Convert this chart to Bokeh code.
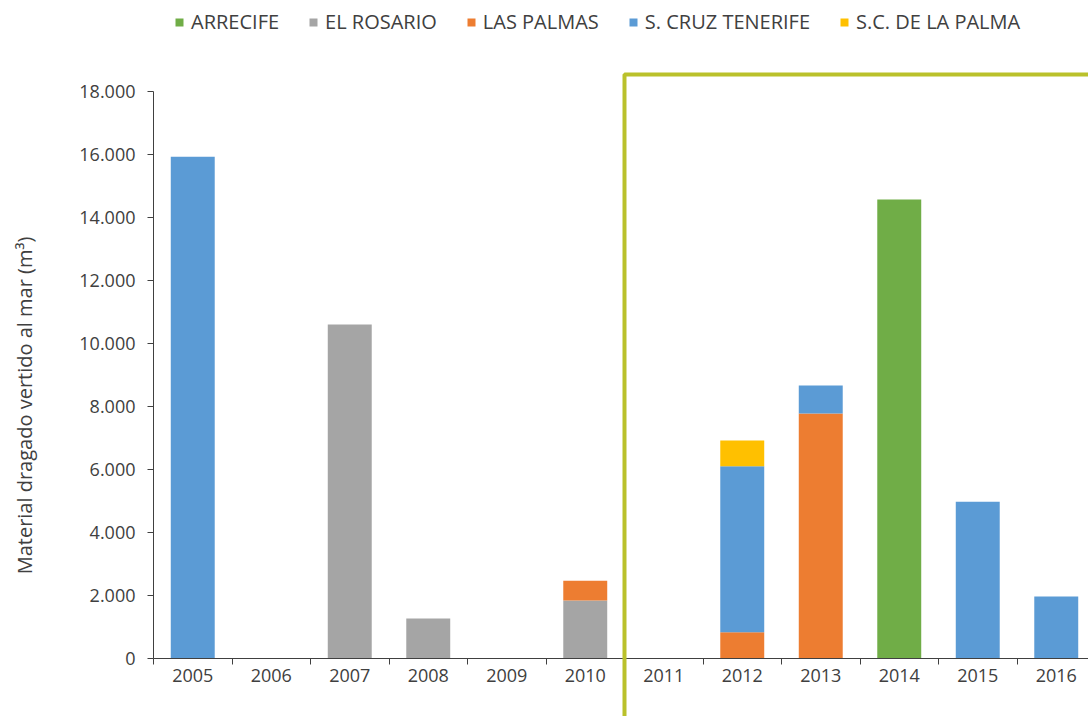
import math
from bokeh.plotting import figure
from bokeh.models import (ColumnDataSource, Range1d, FixedTicker, BoxAnnotation,
                          Label, Legend)
from bokeh.embed import file_html
from bokeh.resources import INLINE

# ---- data -------------------------------------------------------------
years = [2005, 2006, 2007, 2008, 2009, 2010, 2011, 2012, 2013, 2014, 2015, 2016]
arrecife = [0, 0, 0, 0, 0, 0, 0, 0, 0, 14570, 0, 0]
el_rosario = [0, 0, 10600, 1270, 0, 1840, 0, 0, 0, 0, 0, 0]
las_palmas = [0, 0, 0, 0, 0, 630, 0, 830, 7780, 0, 0, 0]
sc_tenerife = [15930, 0, 0, 0, 0, 0, 0, 5270, 890, 0, 4980, 1970]
sc_la_palma = [0, 0, 0, 0, 0, 0, 0, 820, 0, 0, 0, 0]

series_keys = ["arrecife", "el_rosario", "las_palmas", "sc_tenerife", "sc_la_palma"]
series_names = ["ARRECIFE", "EL ROSARIO", "LAS PALMAS", "S. CRUZ TENERIFE", "S.C. DE LA PALMA"]
series_colors = ["#70AD47", "#A5A5A5", "#ED7D31", "#5B9BD5", "#FFC000"]

y_ticks = [0, 2000, 4000, 6000, 8000, 10000, 12000, 14000, 16000, 18000]
y_title = "Material dragado vertido al mar (m³)"

FONT = "Open Sans"
TXT = "#404040"

# ---- layout (pixels) --------------------------------------------------
W, H = 1088, 716
AX_LEFT_PX = 153      # y-axis position
AX_ZERO_PX = 658      # y = 0 position (from top)
AX_TOP_PX = 91        # y = 18000 position (from top)
CAT_PX = 78.5         # width of one year slot

y_per_px = (y_ticks[-1] - y_ticks[0]) / (AX_ZERO_PX - AX_TOP_PX)
x_first = years[0] - 0.5
x_start = x_first - AX_LEFT_PX / CAT_PX
x_end = x_first + (W - AX_LEFT_PX) / CAT_PX
y_start = y_ticks[0] - (H - AX_ZERO_PX) * y_per_px
y_end = y_ticks[-1] + AX_TOP_PX * y_per_px

source = ColumnDataSource(dict(
    year=years, arrecife=arrecife, el_rosario=el_rosario, las_palmas=las_palmas,
    sc_tenerife=sc_tenerife, sc_la_palma=sc_la_palma))

p = figure(width=W, height=H, output_backend="svg", toolbar_location=None,
           x_range=Range1d(x_start, x_end), y_range=Range1d(y_start, y_end),
           min_border_left=0, min_border_right=0, min_border_top=0,
           min_border_bottom=0)
p.outline_line_color = None
p.grid.visible = False
p.background_fill_color = "white"
p.border_fill_color = "white"

renderers = p.vbar_stack(series_keys, x="year", width=0.56, source=source,
                         color=series_colors, line_color=None)

# x axis: labels at year centres, tick marks at slot boundaries, drawn at y = 0
boundaries = [y - 0.5 for y in years] + [years[-1] + 0.5]
xa = p.xaxis[0]
xa.fixed_location = y_ticks[0]
xa.bounds = (x_first, x_end + 1)
xa.ticker = FixedTicker(ticks=years, minor_ticks=boundaries)
xa.major_tick_line_color = None
xa.major_tick_out = 6
xa.major_tick_in = 0
xa.minor_tick_line_color = TXT
xa.minor_tick_out = 6
xa.minor_tick_in = 0
xa.major_label_standoff = 4
xa.axis_line_color = TXT
xa.major_label_text_font = FONT
xa.major_label_text_font_size = "18px"
xa.major_label_text_color = TXT

ya = p.yaxis[0]
ya.fixed_location = x_first
ya.bounds = (y_ticks[0], y_ticks[-1])
ya.ticker = FixedTicker(ticks=y_ticks, minor_ticks=[])
ya.major_label_overrides = {t: f"{t:,}".replace(",", ".") for t in y_ticks}
ya.major_tick_out = 6
ya.major_tick_in = 0
ya.major_tick_line_color = TXT
ya.minor_tick_line_color = None
ya.major_label_standoff = 12
ya.axis_line_color = TXT
ya.major_label_text_font = FONT
ya.major_label_text_font_size = "18px"
ya.major_label_text_color = TXT

# y title
p.add_layout(Label(x=24, y=H - 405, x_units="screen", y_units="screen",
                   text=y_title, angle=math.pi / 2, text_align="center",
                   text_baseline="middle", text_font=FONT,
                   text_font_size="20px", text_color=TXT))

# highlight box (2011 onwards)
p.add_layout(BoxAnnotation(left=years[5] + 0.5, right=x_end + 1,
                           top=y_ticks[-1] + 17 * y_per_px, bottom=y_start - 1000,
                           fill_color=None, fill_alpha=0,
                           line_color="#BAC12B", line_alpha=1, line_width=4))

legend = Legend(items=[(n, [r]) for n, r in zip(series_names, renderers)],
                orientation="horizontal", location=(174, H - 35),
                label_text_font=FONT, label_text_font_size="20px",
                label_text_color=TXT, glyph_width=10, glyph_height=10,
                label_standoff=7, spacing=29, padding=0, margin=0,
                border_line_color=None, background_fill_alpha=0)
p.add_layout(legend, "center")

open("out.html", "w").write(file_html(p, INLINE))
